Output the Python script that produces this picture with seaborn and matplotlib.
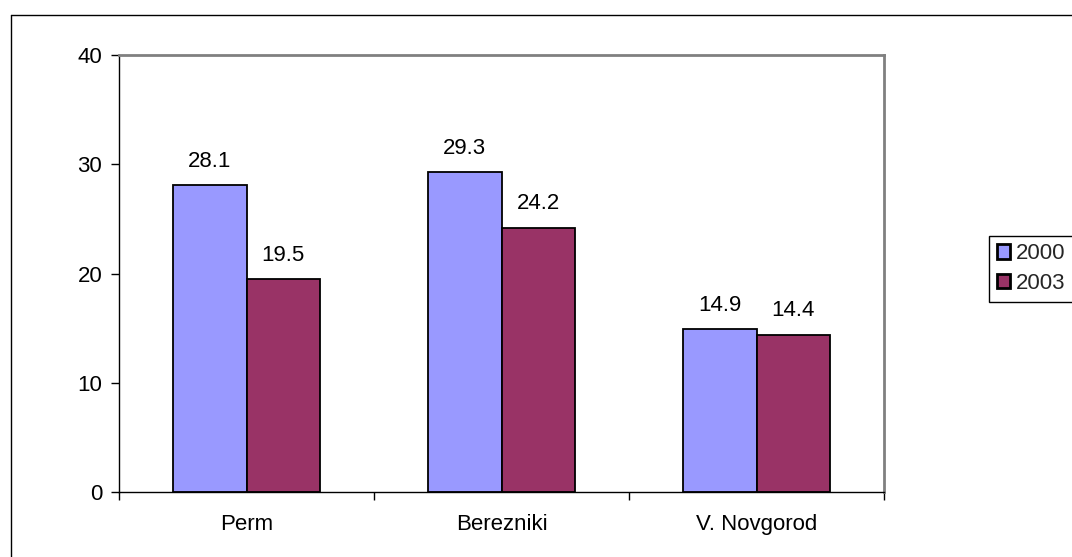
import numpy as np
import pandas as pd
import seaborn as sns
from matplotlib import pyplot as plt
from matplotlib.lines import Line2D

cities = ["Perm", "Berezniki", "V. Novgorod"]
years = ["2000", "2003"]
values_2000 = [28.1, 29.3, 14.9]
values_2003 = [19.5, 24.2, 14.4]
colors = ["#9999FF", "#993366"]


def main() -> None:
    df = pd.DataFrame(
        {
            "city": cities * 2,
            "year": [years[0]] * 3 + [years[1]] * 3,
            "value": values_2000 + values_2003,
        }
    )

    sns.set_theme(style="white")
    plt.rcParams["font.family"] = ["Liberation Sans", "DejaVu Sans"]
    fs = 16

    fig = plt.figure(figsize=(10.72, 5.57), dpi=100)
    ax = fig.add_axes([119 / 1072, 65 / 557, 765 / 1072, 437 / 557])

    sns.barplot(
        data=df, x="city", y="value", hue="year", palette=colors,
        width=0.576, edgecolor="black", linewidth=1.3, saturation=1, ax=ax,
    )

    for cont in ax.containers:
        ax.bar_label(cont, fmt="%.1f", padding=9.5, fontsize=fs, color="black")

    ax.set_ylim(0, 40)
    ax.set_xlim(-0.5, 2.5)
    ax.set_yticks([0, 10, 20, 30, 40])
    ax.set_xlabel("")
    ax.set_ylabel("")

    # category labels at centres, ticks at boundaries
    ax.set_xticks([-0.5, 0.5, 1.5, 2.5])
    ax.set_xticklabels([])
    ax.set_xticks([0, 1, 2], minor=True)
    ax.set_xticklabels(cities, minor=True)
    ax.tick_params(axis="x", which="major", direction="out", length=6, width=1, color="black", bottom=True)
    ax.tick_params(axis="x", which="minor", length=0, pad=16, labelsize=fs, labelcolor="black")
    ax.tick_params(axis="y", direction="out", length=6, width=1, color="black", left=True, pad=6,
                   labelsize=fs, labelcolor="black")

    for side in ["left", "bottom"]:
        ax.spines[side].set_color("black")
        ax.spines[side].set_linewidth(1)
    for side in ["top", "right"]:
        ax.spines[side].set_color("#808080")
        ax.spines[side].set_linewidth(2)

    handles, labels = ax.get_legend_handles_labels()
    ax.legend(
        handles, labels,
        loc="lower left", bbox_to_anchor=(989 / 1072, 1 - 302 / 557),
        bbox_transform=fig.transFigure,
        fontsize=fs, frameon=True, fancybox=False, framealpha=1,
        edgecolor="black", handlelength=0.6, handleheight=0.6,
        handletextpad=0.25, borderpad=0.35, labelspacing=0.4, borderaxespad=0,
    )
    ax.get_legend().get_frame().set_linewidth(1)
    for h in ax.get_legend().legend_handles:
        h.set_linewidth(2)

    # outer chart frame
    fig.add_artist(Line2D([11 / 1072, 1], [1 - 15 / 557, 1 - 15 / 557],
                          transform=fig.transFigure, color="black", linewidth=1))
    fig.add_artist(Line2D([11 / 1072, 11 / 1072], [0, 1 - 15 / 557],
                          transform=fig.transFigure, color="black", linewidth=1))

    fig.savefig("out.png", dpi=100)
    plt.close(fig)


if __name__ == "__main__":
    main()
